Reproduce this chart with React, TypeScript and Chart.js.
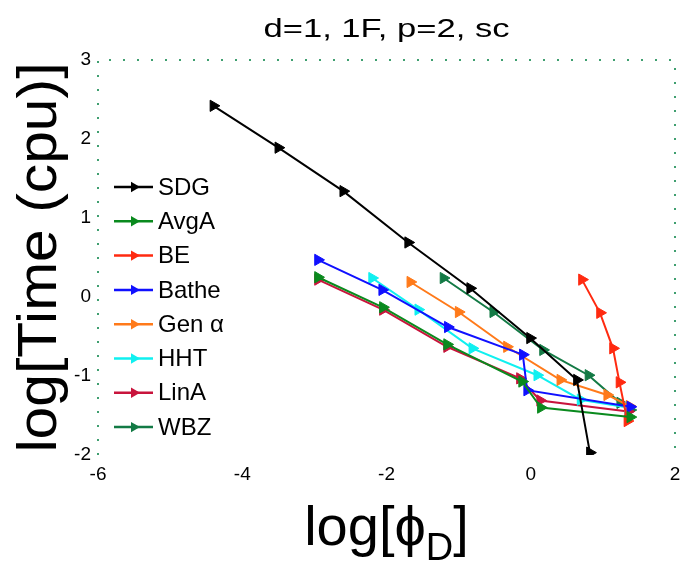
import React, { useEffect, useRef } from "react";
import { Chart, registerables } from "chart.js";

Chart.register(...registerables);

// ---- data (log10 of phi_D vs log10 of cpu time) ----
const seriesNames = ["SDG", "AvgA", "BE", "Bathe", "Gen \u03B1", "HHT", "LinA", "WBZ"];
const seriesColors = ["#000000", "#0a8a1e", "#ff2a10", "#1010ff", "#ff7a1a", "#10f0f0", "#c8143c", "#137a45"];

const sdgX = [-4.4, -3.5, -2.6, -1.7, -0.84, -0.01, 0.64, 0.82];
const sdgY = [2.42, 1.89, 1.34, 0.69, 0.11, -0.52, -1.05, -1.97];

const avgaX = [-2.95, -2.05, -1.16, -0.12, 0.14, 1.38];
const avgaY = [0.25, -0.13, -0.6, -1.07, -1.4, -1.52];

const beX = [0.71, 0.96, 1.14, 1.23, 1.34];
const beY = [0.22, -0.2, -0.65, -1.08, -1.57];

const batheX = [-2.95, -2.06, -1.15, -0.11, -0.05, 1.38];
const batheY = [0.47, 0.09, -0.38, -0.73, -1.18, -1.39];

const genaX = [-1.67, -1.0, -0.33, 0.41, 1.06, 1.37];
const genaY = [0.19, -0.19, -0.63, -1.05, -1.24, -1.38];

const hhtX = [-2.2, -1.56, -0.81, 0.09, 0.69, 1.35];
const hhtY = [0.24, -0.16, -0.65, -0.99, -1.3, -1.4];

const linaX = [-2.95, -2.05, -1.16, -0.15, 0.13, 1.35];
const linaY = [0.22, -0.16, -0.63, -1.03, -1.31, -1.45];

const wbzX = [-1.21, -0.52, 0.17, 0.8, 1.24, 1.38];
const wbzY = [0.24, -0.19, -0.67, -0.99, -1.34, -1.43];

const seriesX = [sdgX, avgaX, beX, batheX, genaX, hhtX, linaX, wbzX];
const seriesY = [sdgY, avgaY, beY, batheY, genaY, hhtY, linaY, wbzY];

const xTicks = [-6, -4, -2, 0, 2];
const yTicks = [-2, -1, 0, 1, 2, 3];

const titleText = "d=1, 1F, p=2, sc";
const yTitleText = "log[Time (cpu)]";

const FONT = "'Liberation Sans', Arial, sans-serif";

function rightTriangle(ctx: CanvasRenderingContext2D, x: number, y: number, r: number) {
  ctx.beginPath();
  ctx.moveTo(x + r, y);
  ctx.lineTo(x - r * 0.5, y - r * 0.866);
  ctx.lineTo(x - r * 0.5, y + r * 0.866);
  ctx.closePath();
  ctx.fill();
}

const decorPlugin = {
  id: "decor",
  beforeDatasetsDraw(chart: any) {
    const { ctx, chartArea } = chart;
    const { left, right, top, bottom } = chartArea;
    ctx.save();
    ctx.strokeStyle = "#3f9f70";
    ctx.lineWidth = 2;
    ctx.setLineDash([2, 12]);
    ctx.beginPath();
    ctx.moveTo(left, bottom);
    ctx.lineTo(left, top);
    ctx.lineTo(right, top);
    ctx.lineTo(right, bottom);
    ctx.stroke();
    ctx.restore();
  },
  afterDraw(chart: any) {
    const { ctx, chartArea } = chart;
    const { left, right, top, bottom } = chartArea;
    const cx = (left + right) / 2;

    // title
    ctx.save();
    ctx.fillStyle = "#000";
    ctx.font = `26px ${FONT}`;
    ctx.textAlign = "center";
    ctx.textBaseline = "alphabetic";
    ctx.translate(cx, 37);
    ctx.scale(1.33, 1);
    ctx.fillText(titleText, 0, 0);
    ctx.restore();

    // y-axis title
    ctx.save();
    ctx.fillStyle = "#000";
    ctx.font = `56px ${FONT}`;
    ctx.textAlign = "center";
    ctx.textBaseline = "alphabetic";
    ctx.translate(56, (top + bottom) / 2);
    ctx.rotate(-Math.PI / 2);
    ctx.scale(1.05, 1);
    ctx.fillText(yTitleText, 0, 0);
    ctx.restore();

    // x-axis title: log[phi_D]
    ctx.save();
    ctx.fillStyle = "#000";
    const big = `56px ${FONT}`;
    const small = `38px ${FONT}`;
    const p1 = "log[\u03D5";
    const p2 = "D";
    const p3 = "]";
    ctx.font = big;
    const w1 = ctx.measureText(p1).width;
    const w3 = ctx.measureText(p3).width;
    ctx.font = small;
    const w2 = ctx.measureText(p2).width;
    const total = w1 + w2 + w3;
    let x = cx - total / 2;
    const base = 545;
    ctx.textAlign = "left";
    ctx.textBaseline = "alphabetic";
    ctx.font = big;
    ctx.fillText(p1, x, base);
    x += w1;
    ctx.font = small;
    ctx.fillText(p2, x, base + 15);
    x += w2;
    ctx.font = big;
    ctx.fillText(p3, x, base);
    ctx.restore();

    // legend
    ctx.save();
    const rowTop = top + 127;
    const rowGap = 34.3;
    chart.data.datasets.forEach((ds: any, i: number) => {
      const y = rowTop + i * rowGap;
      ctx.strokeStyle = ds.borderColor;
      ctx.lineWidth = 2.5;
      ctx.setLineDash([]);
      ctx.beginPath();
      ctx.moveTo(left + 16, y);
      ctx.lineTo(left + 55, y);
      ctx.stroke();
      ctx.fillStyle = ds.pointBackgroundColor;
      rightTriangle(ctx, left + 36, y, 6);
      ctx.fillStyle = "#000";
      ctx.font = `24px ${FONT}`;
      ctx.textAlign = "left";
      ctx.textBaseline = "middle";
      ctx.fillText(ds.label, left + 60, y + 1);
    });
    ctx.restore();
  },
};

export default function App() {
  const canvasRef = useRef<HTMLCanvasElement | null>(null);

  useEffect(() => {
    const canvas = canvasRef.current;
    if (!canvas) return;

    const datasets = seriesNames.map((name, i) => ({
      label: name,
      data: seriesX[i].map((xv, k) => ({ x: xv, y: seriesY[i][k] })),
      borderColor: seriesColors[i],
      backgroundColor: seriesColors[i],
      pointBackgroundColor: seriesColors[i],
      pointBorderColor: seriesColors[i],
      borderWidth: 2,
      pointStyle: "triangle",
      rotation: 90,
      pointRadius: 6.5,
      pointBorderWidth: 1,
      fill: false,
      tension: 0,
    }));

    const chart = new Chart(canvas, {
      type: "line",
      data: { datasets },
      options: {
        animation: false,
        responsive: true,
        maintainAspectRatio: false,
        layout: { padding: { top: 60, right: 8, left: 0, bottom: 0 } },
        plugins: {
          legend: { display: false },
          title: { display: false },
          tooltip: { enabled: false },
        },
        scales: {
          x: {
            type: "linear",
            min: -6,
            max: 2,
            afterBuildTicks: (scale: any) => {
              scale.ticks = xTicks.map((v) => ({ value: v }));
            },
            afterFit: (scale: any) => {
              scale.height = 117;
              scale.paddingLeft = 0;
              scale.paddingRight = 0;
            },
            grid: { display: false, drawTicks: false },
            border: { display: false },
            ticks: {
              color: "#000",
              font: { family: FONT, size: 19 },
              padding: 8,
              maxRotation: 0,
            },
          },
          y: {
            type: "linear",
            min: -2,
            max: 3,
            afterBuildTicks: (scale: any) => {
              scale.ticks = yTicks.map((v) => ({ value: v }));
            },
            afterFit: (scale: any) => {
              scale.width = 98;
              scale.paddingTop = 0;
              scale.paddingBottom = 0;
            },
            grid: { display: false, drawTicks: false },
            border: { display: false },
            ticks: {
              color: "#000",
              font: { family: FONT, size: 19 },
              padding: 7,
            },
          },
        },
      },
      plugins: [decorPlugin],
    });

    return () => chart.destroy();
  }, []);

  return (
    <div style={{ position: "fixed", left: 0, top: 0, width: 683, height: 572, background: "#fff" }}>
      <canvas ref={canvasRef} />
    </div>
  );
}
